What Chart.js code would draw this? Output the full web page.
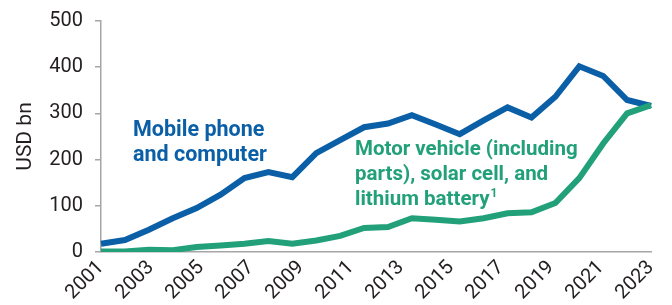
<!DOCTYPE html>
<html>
<head>
<meta charset="utf-8">
<script src="https://cdn.jsdelivr.net/npm/chart.js@4.4.1/dist/chart.umd.min.js"></script>
<style>
  html, body { margin: 0; padding: 0; background: #fff; }
  #wrap { width: 672px; height: 305px; }
</style>
</head>
<body>
<div id="wrap"><canvas id="exportChart"></canvas></div>
<script>
// 24 data points spread evenly across the axis (2001 label at the first, 2023 at the last)
const periods = ['2000', '2001', '2002', '2003', '2004', '2005', '2006', '2007', '2008', '2009', '2010', '2011',
    '2012', '2013', '2014', '2015', '2016', '2017', '2018', '2019', '2020', '2021', '2022', '2023'];
const yearTicks = [2001, 2003, 2005, 2007, 2009, 2011, 2013, 2015, 2017, 2019, 2021, 2023];
const valueTicks = [0, 100, 200, 300, 400, 500];

const mobileComputer = [18, 26, 48, 73, 95, 124, 160, 173, 162, 214, 242, 270,
    278, 296, 276, 255, 285, 313, 291, 336, 402, 381, 329, 316];
const vehicleSolarBattery = [1, 1, 5, 4, 11, 14, 18, 24, 18, 25, 35, 52,
    54, 73, 70, 66, 73, 84, 86, 106, 160, 235, 300, 318];

const BLUE = '#0a5fa6';
const GREEN = '#22a079';
const TEXT = '#231f20';
const AXIS = '#a6a6a6';

// draws the two series labels inside the plot
const seriesLabels = {
    id: 'seriesLabels',
    afterDatasetsDraw(chart) {
        const ctx = chart.ctx;
        ctx.save();
        ctx.textBaseline = 'alphabetic';
        ctx.textAlign = 'left';

        ctx.font = 'bold 21.5px Roboto';
        ctx.fillStyle = BLUE;
        ctx.fillText('Mobile phone', 133, 136);
        ctx.fillText('and computer', 133, 161);

        ctx.font = 'bold 20.5px Roboto';
        ctx.fillStyle = GREEN;
        ctx.fillText('Motor vehicle (including', 355, 155);
        ctx.fillText('parts), solar cell, and', 355, 180);
        ctx.fillText('lithium battery', 355, 205);
        const w = ctx.measureText('lithium battery').width;
        ctx.font = 'bold 12px Roboto';
        ctx.fillText('1', 355 + w + 1, 197);
        ctx.restore();
    }
};

const ctx = document.getElementById('exportChart').getContext('2d');
const chart = new Chart(ctx, {
    type: 'line',
    data: {
        labels: periods,
        datasets: [{
            label: 'Mobile phone and computer',
            data: mobileComputer,
            borderColor: BLUE,
            order: 1
        }, {
            label: 'Motor vehicle (including parts), solar cell, and lithium battery',
            data: vehicleSolarBattery,
            borderColor: GREEN,
            order: 0
        }]
    },
    options: {
        responsive: true,
        maintainAspectRatio: false,
        animation: false,
        layout: {
            padding: { top: 21, right: 17, left: 0, bottom: 0 }
        },
        elements: {
            line: { borderWidth: 6, tension: 0, borderJoinStyle: 'miter', borderCapStyle: 'butt' },
            point: { radius: 0 }
        },
        plugins: {
            legend: { display: false },
            tooltip: { enabled: false }
        },
        scales: {
            x: {
                display: false,
                offset: false
            },
            years: {
                type: 'linear',
                position: 'bottom',
                min: 2001,
                max: 2023,
                afterBuildTicks: (scale) => {
                    scale.ticks = yearTicks.map(v => ({ value: v }));
                },
                afterFit: (scale) => {
                    scale.height = 53;
                },
                grid: { display: false, drawTicks: false },
                border: { display: true, color: AXIS, width: 1.5 },
                ticks: {
                    font: { family: 'Roboto', size: 20 },
                    color: TEXT,
                    maxRotation: 45,
                    minRotation: 45,
                    padding: 4,
                    callback: (v) => String(v)
                }
            },
            y: {
                min: 0,
                max: 500,
                afterBuildTicks: (scale) => {
                    scale.ticks = valueTicks.map(v => ({ value: v }));
                },
                afterFit: (scale) => {
                    scale.width = 101;
                    scale.paddingTop = 10;
                    scale.paddingBottom = 10;
                },
                grid: { drawOnChartArea: false, drawTicks: true, tickLength: 6, color: AXIS, lineWidth: 1.5 },
                border: { display: true, color: AXIS, width: 1.5 },
                title: {
                    display: true,
                    text: 'USD bn',
                    font: { family: 'Roboto', size: 21 },
                    color: TEXT,
                    padding: { top: 13, bottom: 0 }
                },
                ticks: {
                    font: { family: 'Roboto', size: 20 },
                    color: TEXT,
                    padding: 12
                }
            }
        }
    },
    plugins: [seriesLabels]
});
</script>
</body>
</html>
